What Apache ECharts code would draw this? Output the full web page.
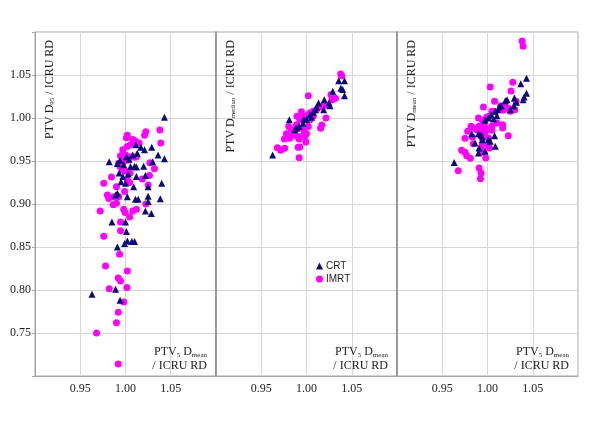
<!DOCTYPE html>
<html>
<head>
<meta charset="utf-8">
<script src="https://cdn.jsdelivr.net/npm/echarts@6/dist/echarts.min.js"></script>
<style>html,body{margin:0;padding:0;background:#fff}#c{width:600px;height:424px}</style>
</head>
<body>
<div id="c"></div>
<script>
// ---- data (x = PTV5 Dmean / ICRU RD, y = panel quantity / ICRU RD) ----
var seriesNames = ['CRT', 'IMRT'];
var xTickLabels = ['0.95', '1.00', '1.05'];
var yTickLabels = ['0.75', '0.80', '0.85', '0.90', '0.95', '1.00', '1.05'];
var panelTitles = ['D95', 'Dmedian', 'Dmean'];

var crtD95 = [
  [1.043,1.001],[1.043,0.9525],[0.982,0.949],[1.036,0.957],[1.029,0.966],[1.021,0.963],[1.017,0.966],
  [1.0115,0.969],[1.013,0.959],[1.008,0.957],[1.004,0.952],[1.001,0.955],[0.994,0.951],[0.991,0.947],
  [0.998,0.9455],[1.0055,0.9435],[1.012,0.943],[1.010,0.944],[1.020,0.944],[1.030,0.949],[1.003,0.935],
  [0.997,0.932],[0.993,0.936],[1.012,0.932],[1.022,0.933],[0.995,0.926],[1.000,0.924],[1.040,0.924],
  [1.009,0.920],[1.025,0.920],[0.991,0.9125],[0.989,0.9105],[1.002,0.9085],[1.025,0.909],[1.011,0.9055],
  [1.014,0.9055],[1.0385,0.906],[1.025,0.903],[1.022,0.892],[1.0285,0.889],[0.985,0.879],[1.000,0.879],
  [1.001,0.868],[1.002,0.857],[1.007,0.8565],[1.010,0.8565],[0.999,0.854],[0.991,0.850],[0.989,0.801],
  [0.963,0.795],[0.994,0.788]
];
var imrtD95 = [
  [1.038,0.986],[1.039,0.971],[1.0225,0.984],[1.021,0.980],[1.002,0.980],[1.001,0.977],[1.008,0.975],
  [1.011,0.973],[1.015,0.971],[0.997,0.963],[1.002,0.967],[1.0055,0.969],[0.9945,0.956],[1.000,0.957],
  [1.0055,0.955],[1.010,0.9545],[1.012,0.955],[0.9925,0.9475],[0.994,0.9435],[0.998,0.9495],[1.0025,0.951],
  [1.027,0.948],[1.032,0.941],[0.9845,0.9315],[0.997,0.9395],[1.000,0.938],[1.005,0.936],[1.0185,0.929],
  [1.0265,0.933],[1.0045,0.925],[1.002,0.928],[1.025,0.922],[0.976,0.924],[0.990,0.920],[0.980,0.9105],
  [0.9815,0.9065],[0.987,0.9085],[0.9925,0.9085],[0.990,0.901],[0.9865,0.899],[0.999,0.9145],[1.0225,0.900],
  [0.972,0.892],[0.998,0.894],[0.9995,0.890],[1.0045,0.885],[1.008,0.892],[1.012,0.894],[0.9945,0.879],
  [0.9945,0.869],[0.976,0.8625],[0.9935,0.8415],[0.978,0.828],[1.002,0.822],[0.992,0.814],[0.9945,0.8105],
  [0.982,0.8015],[1.0015,0.803],[0.998,0.786],[0.992,0.774],[0.990,0.762],[0.968,0.750],[0.992,0.714]
];
var crtDmedian = [
  [0.9626,0.957],[0.981,0.998],[1.0356,1.0434],[1.042,1.0434],[1.038,1.0345],[1.040,1.033],[1.042,1.026],
  [1.029,1.031],[1.0196,1.0213],[1.025,1.0174],[1.026,1.0143],[1.019,1.0097],[1.0133,1.0174],[1.0096,1.0097],
  [1.0074,1.0066],[1.0037,1.0039],[1.000,0.998],[0.9963,0.994],[0.9919,0.990],[0.9889,0.988],[0.987,0.9864],
  [1.011,1.0128],[1.0056,1.001],[0.997,0.9988]
];
var imrtDmedian = [
  [1.0378,1.0512],[1.0389,1.0492],[1.027,1.027],[1.032,1.023],[1.028,1.021],[1.002,1.026],[1.022,1.015],
  [1.0185,1.0143],[1.015,1.0128],[1.011,1.0097],[1.0074,1.0078],[1.0037,1.0058],[0.9944,1.0074],[1.0215,1.000],
  [1.017,0.992],[1.0156,0.988],[0.9896,1.002],[0.9926,0.998],[0.9963,1.001],[1.000,1.0027],[1.0037,0.998],
  [1.0074,1.002],[0.9804,0.990],[0.9833,0.9864],[0.9889,0.9922],[0.9926,0.9884],[0.997,0.9864],[1.002,0.990],
  [0.9778,0.9818],[0.9852,0.980],[0.9896,0.9787],[0.9963,0.9795],[1.000,0.9818],[0.9756,0.9756],[0.9815,0.9764],
  [0.9919,0.9756],[0.9981,0.9787],[0.9678,0.9655],[0.9715,0.9624],[0.9759,0.9647],[0.9907,0.9659],[0.9926,0.9663],
  [0.9993,0.9721],[0.9919,0.9539]
];
var crtDmean = [
  [0.9632,0.9484],[1.0431,1.0461],[1.0368,1.0399],[1.0431,1.0287],[1.0394,1.0213],[1.0405,1.0244],[1.0297,1.0233],
  [1.032,1.0182],[1.029,1.0143],[1.0253,1.0097],[1.0216,1.0213],[1.0197,1.0202],[1.0152,1.0143],[1.013,1.0128],
  [1.0115,1.0097],[1.0086,1.0078],[1.0041,1.0039],[1.0011,1.000],[0.9974,0.9973],[1.0104,1.0027],[1.0067,0.9988],
  [0.9825,0.9818],[0.990,0.9818],[0.9929,0.9802],[0.9944,0.9779],[1.0011,0.9748],[1.003,0.9729],[0.9862,0.9709],
  [0.9944,0.9748],[1.0078,0.9795],[0.9907,0.9651],[0.990,0.9593],[0.9974,0.9612],[1.0086,0.9671]
];
var imrtDmean = [
  [1.0383,1.0895],[1.0394,1.0833],[1.0279,1.0415],[1.026,1.0314],[1.003,1.036],[1.0078,1.0194],[0.9955,1.0128],
  [1.0067,1.0078],[1.0048,1.0078],[1.0145,1.0143],[1.0175,1.0089],[1.0197,1.0136],[1.0234,1.0112],[1.0301,1.0097],
  [1.0253,1.0078],[1.0316,1.0194],[0.990,1.000],[0.9944,0.9973],[0.9993,1.0012],[1.0022,1.0019],[0.9818,0.9903],
  [0.9836,0.9884],[0.9907,0.9903],[0.9967,0.9903],[1.0048,0.9903],[1.0104,0.9942],[1.0167,0.9922],[1.0167,0.9884],
  [0.9781,0.9845],[0.9881,0.9864],[0.9911,0.9872],[0.9937,0.9864],[1.000,0.9864],[1.0048,0.9857],[0.9967,0.9818],
  [0.9751,0.9764],[0.9833,0.9779],[0.9929,0.9787],[1.0011,0.9767],[0.9844,0.9702],[0.9944,0.9702],[1.023,0.9795],
  [0.9714,0.9624],[0.9751,0.9601],[0.977,0.9562],[0.981,0.9531],[0.9944,0.9601],[0.9937,0.9632],[1.0011,0.9671],
  [1.0022,0.9651],[0.9981,0.9535],[0.9677,0.9388],[0.9907,0.9419],[0.9929,0.936],[0.9922,0.9295]
];

var panels = [
  { crt: crtD95, imrt: imrtD95 },
  { crt: crtDmedian, imrt: imrtDmedian },
  { crt: crtDmean, imrt: imrtDmean }
];

// ---- layout / style ----
var SERIF = '"Liberation Serif", "Times New Roman", serif';
var SANS = '"Liberation Sans", Arial, sans-serif';
var gridLefts = [35, 216, 397];
var gridW = 181, gridTop = 32, gridH = 344;
var NAVY = '#0b0b7a', MAG = '#ff00ff';

var grids = [], xAxes = [], yAxes = [], series = [], graphics = [];
gridLefts.forEach(function (l, i) {
  grids.push({ left: l, top: gridTop, width: gridW, height: gridH, show: true, borderColor: '#a8a8a8', borderWidth: 1, backgroundColor: 'transparent' });
  xAxes.push({
    gridIndex: i, type: 'value', min: 0.9, max: 1.1, interval: 0.05,
    axisLine: { show: true, lineStyle: { color: '#a8a8a8' } },
    axisTick: { show: false },
    splitLine: { show: true, lineStyle: { color: '#d6d6d6' } },
    axisLabel: {
      fontFamily: SERIF, fontSize: 12, color: '#222', margin: 7,
      formatter: function (v) { var s = v.toFixed(2); return xTickLabels.indexOf(s) >= 0 ? s : ''; }
    }
  });
  yAxes.push({
    gridIndex: i, type: 'value', min: 0.7, max: 1.1, interval: 0.05,
    axisLine: { show: true, lineStyle: { color: i === 0 ? '#a0a0a0' : '#8a8a8a', width: i === 0 ? 1 : 1.5 } },
    axisTick: { show: i === 0, length: 3, lineStyle: { color: '#a0a0a0' } },
    splitLine: { show: true, lineStyle: { color: '#d6d6d6' } },
    axisLabel: {
      show: i === 0, fontFamily: SERIF, fontSize: 12, color: '#222', margin: 4,
      formatter: function (v) { var s = v.toFixed(2); return yTickLabels.indexOf(s) >= 0 ? s : ''; }
    }
  });
  series.push({
    name: seriesNames[0], type: 'scatter', xAxisIndex: i, yAxisIndex: i,
    symbol: 'triangle', symbolSize: 7, itemStyle: { color: NAVY, opacity: 1 },
    data: panels[i].crt, z: 3
  });
  series.push({
    name: seriesNames[1], type: 'scatter', xAxisIndex: i, yAxisIndex: i,
    symbol: 'circle', symbolSize: 7, itemStyle: { color: MAG, opacity: 1 },
    data: panels[i].imrt, z: 2
  });

  // vertical y-axis title (inside panel, top-left)
  graphics.push({
    type: 'text', x: l + 15, y: 40, rotation: Math.PI / 2, z: 10,
    style: {
      text: '{a|PTV D}{s|' + panelTitles[i].slice(1) + '}{a| / ICRU RD}',
      textAlign: 'right', textVerticalAlign: 'middle',
      rich: {
        a: { fontFamily: SERIF, fontSize: 12, fill: '#222' },
        s: { fontFamily: SERIF, fontSize: 7, fill: '#222', verticalAlign: 'bottom', padding: [4, 0, 0, 0] }
      }
    }
  });
  // x title (bottom-right, two lines)
  graphics.push({
    type: 'text', x: l + gridW - 9, y: 345, z: 10,
    style: {
      text: '{a|PTV}{s|5}{a| D}{s|mean}\n{a|/ ICRU RD}',
      textAlign: 'right', textVerticalAlign: 'top',
      rich: {
        a: { fontFamily: SERIF, fontSize: 12, fill: '#222', lineHeight: 14 },
        s: { fontFamily: SERIF, fontSize: 7, fill: '#222', verticalAlign: 'bottom', padding: [4, 0, 0, 0], lineHeight: 14 }
      }
    }
  });
});

var chart = echarts.init(document.getElementById('c'), null, { renderer: 'canvas' });
chart.setOption({
  animation: false,
  backgroundColor: '#fff',
  grid: grids, xAxis: xAxes, yAxis: yAxes, series: series,
  legend: {
    data: [{ name: 'CRT', icon: 'triangle' }, { name: 'IMRT', icon: 'circle' }],
    orient: 'vertical', left: 311, top: 256, itemWidth: 7, itemHeight: 7, itemGap: 3,
    textStyle: { fontFamily: SANS, fontSize: 10, color: '#222', padding: [0, 0, 0, -2] }
  },
  graphic: graphics
});
</script>
</body>
</html>
